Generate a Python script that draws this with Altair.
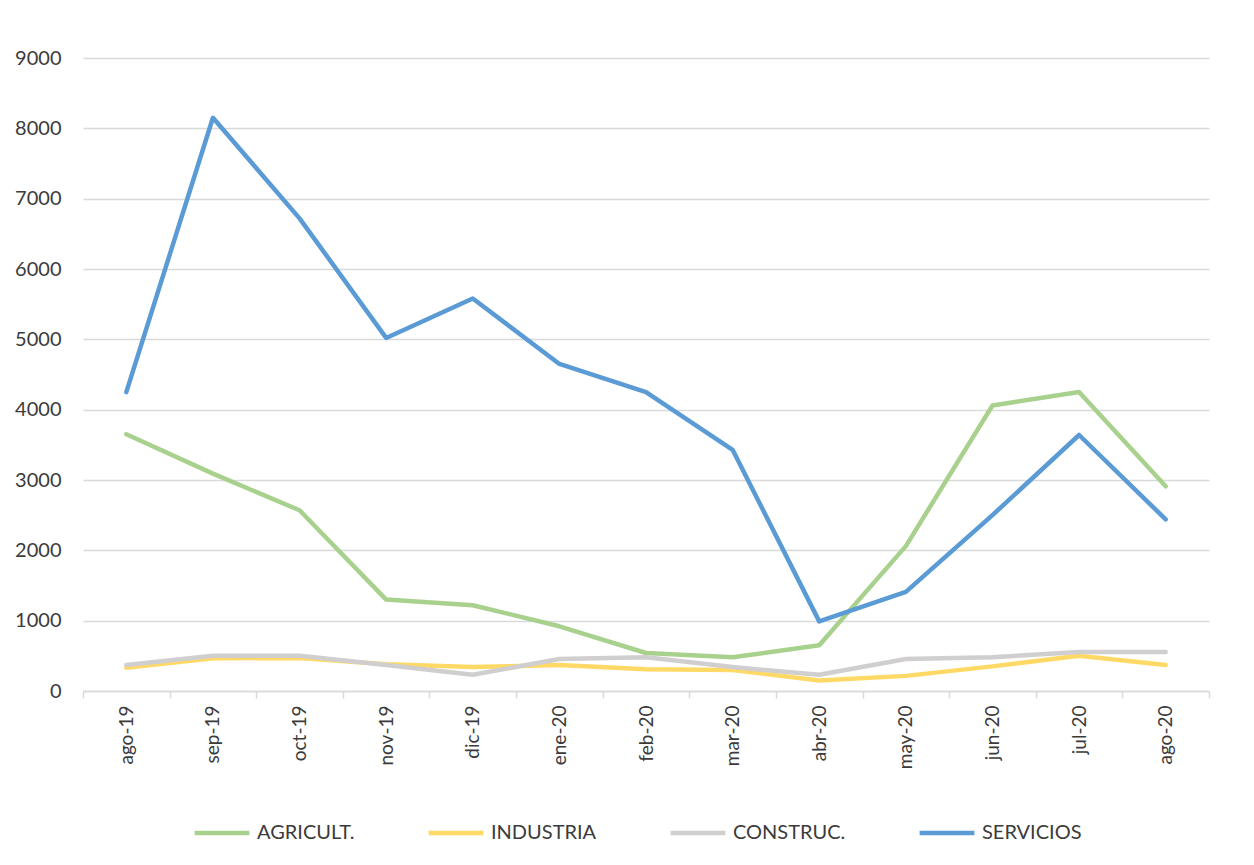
import altair as alt
import pandas as pd

months = ["ago-19", "sep-19", "oct-19", "nov-19", "dic-19", "ene-20", "feb-20",
          "mar-20", "abr-20", "may-20", "jun-20", "jul-20", "ago-20"]
series = ["AGRICULT.", "INDUSTRIA", "CONSTRUC.", "SERVICIOS"]
colors = ["#A9D18E", "#FFD966", "#D0CECE", "#5B9BD5"]

agricult = [3650, 3090, 2570, 1300, 1220, 920, 540, 480, 650, 2060, 4060, 4250, 2910]
industria = [330, 465, 470, 380, 340, 370, 310, 300, 150, 215, 350, 500, 370]
construc = [370, 500, 500, 370, 230, 455, 480, 340, 230, 455, 480, 555, 555]
servicios = [4250, 8150, 6720, 5020, 5580, 4650, 4250, 3430, 990, 1410, 2500, 3640, 2440]

rows = []
for name, vals in zip(series, [agricult, industria, construc, servicios]):
    for m, v in zip(months, vals):
        rows.append({"mes": m, "serie": name, "valor": v})
df = pd.DataFrame(rows)

FONT = "Lato"
TXT = "#3b3b3b"

chart = alt.Chart(df).mark_line(strokeWidth=4.5, strokeCap="round", strokeJoin="round").encode(
    x=alt.X("mes:N", sort=months, title=None,
            scale=alt.Scale(type="band", paddingInner=0, paddingOuter=0),
            axis=alt.Axis(tickBand="extent", labelAngle=-90, labelFontSize=19,
                          labelFont=FONT, labelColor=TXT, tickSize=7, tickColor="#d9d9d9",
                          tickWidth=1.5, domainColor="#d9d9d9", domainWidth=1.5,
                          labelPadding=7, grid=False)),
    y=alt.Y("valor:Q", title=None,
            scale=alt.Scale(domain=[0, 9000], nice=False),
            axis=alt.Axis(values=list(range(0, 9001, 1000)), ticks=False, domain=False,
                          format="d",
                          labelFontSize=20, labelFont=FONT, labelColor=TXT,
                          labelPadding=22, minExtent=70, gridColor="#d9d9d9",
                          gridWidth=1.5)),
    color=alt.Color("serie:N", sort=series, title=None,
                    scale=alt.Scale(domain=series, range=colors),
                    legend=alt.Legend(orient="none", direction="horizontal",
                                      legendX=109, legendY=745,
                                      symbolType="stroke", symbolSize=3000,
                                      symbolStrokeWidth=4.5, labelFontSize=20,
                                      labelFont=FONT, labelColor=TXT, labelOffset=5,
                                      columnPadding=64, padding=0)),
    order=alt.Order("serie_idx:Q"),
).transform_calculate(
    serie_idx="indexof(['AGRICULT.', 'INDUSTRIA', 'CONSTRUC.', 'SERVICIOS'], datum.serie)"
).properties(
    width=1126, height=633,
    padding={"left": 5, "top": 40, "right": 5, "bottom": 5}
).configure_view(stroke=None)

chart.save("out.html", embed_options={"renderer": "svg", "actions": False})
